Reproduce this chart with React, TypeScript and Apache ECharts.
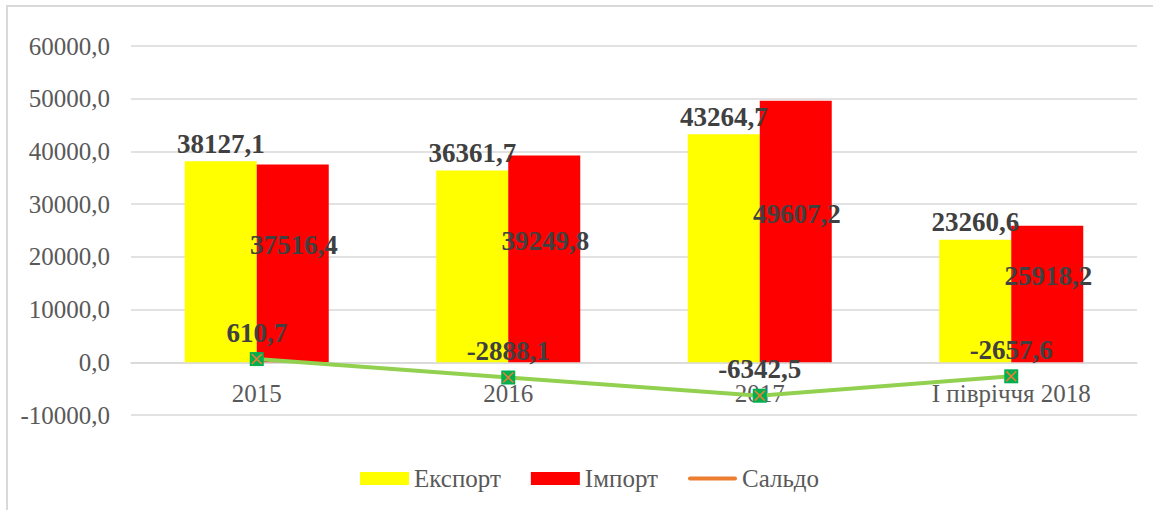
import React, { useEffect, useRef } from "react";
import * as echarts from "echarts";

const categories = ["2015", "2016", "2017", "І півріччя 2018"];
const exportValues = [38127.1, 36361.7, 43264.7, 23260.6];
const importValues = [37516.4, 39249.8, 49607.2, 25918.2];
const saldoValues = [610.7, -2888.1, -6342.5, -2657.6];
const seriesNames = ["Експорт", "Імпорт", "Сальдо"];
const yMin = -10000;
const yMax = 60000;
const yInterval = 10000;

const fmt = (v: number) => v.toFixed(1).replace(".", ",");
const FONT = "'Liberation Serif', 'Times New Roman', serif";

export default function App() {
  const ref = useRef<HTMLDivElement>(null);
  useEffect(() => {
    if (!ref.current) return;
    const chart = echarts.init(ref.current, undefined, { renderer: "svg" });
    const labelStyle = {
      show: true,
      fontFamily: FONT,
      fontSize: 27,
      fontWeight: "bold" as const,
      color: "#404040",
      formatter: (p: any) => fmt(p.value),
    };
    chart.setOption({
      animation: false,
      backgroundColor: "#ffffff",
      graphic: [
        {
          type: "rect",
          silent: true,
          z: -10,
          shape: { x: 7, y: 6, width: 1300, height: 700 },
          style: { fill: "none", stroke: "#D9D9D9", lineWidth: 2 },
        },
      ],
      grid: { left: 131, right: 16, top: 46, bottom: 95, containLabel: false },
      legend: {
        left: 355,
        top: 461,
        itemWidth: 49,
        itemHeight: 13,
        itemGap: 30,
        textStyle: { fontFamily: FONT, fontSize: 25, color: "#595959" },
        data: [
          { name: seriesNames[0], icon: "rect" },
          { name: seriesNames[1], icon: "rect" },
          {
            name: seriesNames[2],
            icon: "path://M2,4.5 L47,4.5 A2,2 0 0 1 47,8.5 L2,8.5 A2,2 0 0 1 2,4.5 Z M0,0 M49,13",
            itemStyle: { color: "#ED7D31" },
          },
        ],
      },
      xAxis: {
        type: "category",
        data: categories,
        axisLine: { show: true, onZero: true, lineStyle: { color: "#D9D9D9", width: 1.5 } },
        axisTick: { show: false },
        axisLabel: { fontFamily: FONT, fontSize: 25, color: "#595959", margin: -34 },
      },
      yAxis: {
        type: "value",
        min: yMin,
        max: yMax,
        interval: yInterval,
        axisLine: { show: false },
        axisTick: { show: false },
        splitLine: { lineStyle: { color: "#D9D9D9", width: 1.5 } },
        axisLabel: {
          fontFamily: FONT,
          fontSize: 25,
          color: "#595959",
          margin: 21,
          formatter: (v: number) => fmt(v),
        },
      },
      series: [
        {
          name: seriesNames[0],
          type: "bar",
          data: exportValues,
          barWidth: 72,
          barGap: "0%",
          itemStyle: { color: "#FFFF00" },
          label: { ...labelStyle, position: "top", distance: 4 },
        },
        {
          name: seriesNames[1],
          type: "bar",
          data: importValues,
          barWidth: 72,
          barGap: "0%",
          itemStyle: { color: "#FF0000" },
          label: { ...labelStyle, position: "inside", offset: [1, -18] },
        },
        {
          name: seriesNames[2],
          type: "line",
          data: saldoValues,
          symbol: "rect",
          symbolSize: 14,
          lineStyle: { color: "#92D050", width: 4 },
          itemStyle: { color: "#00B050" },
          label: { ...labelStyle, position: "top", distance: 6 },
          z: 3,
        },
        {
          name: "saldo-x",
          type: "line",
          data: saldoValues,
          symbol:
            "path://M2,3 L3,2 L7,6 L11,2 L12,3 L8,7 L12,11 L11,12 L7,8 L3,12 L2,11 L6,7 Z",
          symbolSize: 11,
          lineStyle: { opacity: 0, width: 0 },
          itemStyle: { color: "#ED7D31" },
          label: { show: false },
          silent: true,
          z: 4,
        },
      ],
    });
    return () => chart.dispose();
  }, []);
  return (
    <div
      ref={ref}
      style={{ position: "absolute", left: 0, top: 0, width: 1153, height: 510 }}
    />
  );
}
